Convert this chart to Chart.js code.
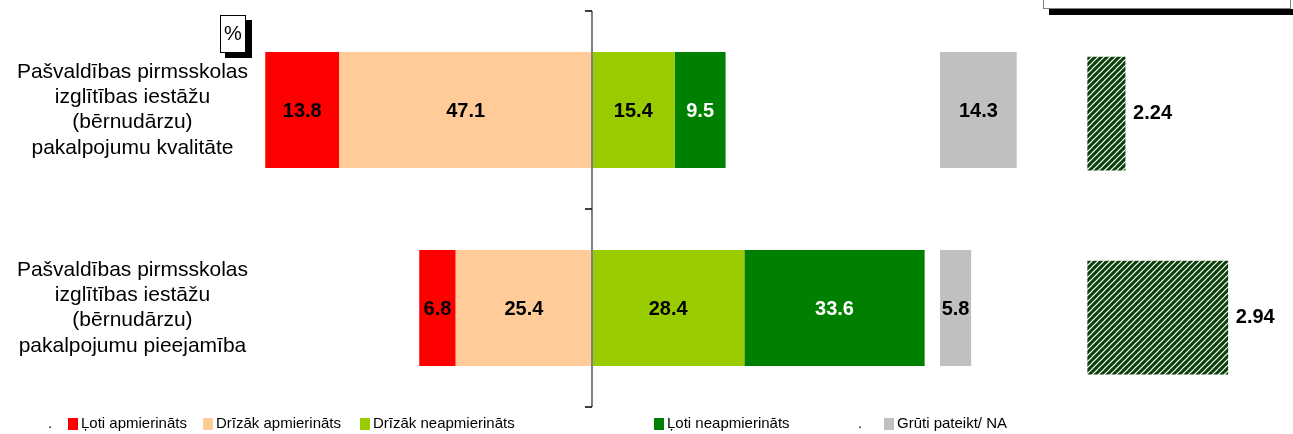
<!DOCTYPE html>
<html>
<head>
<meta charset="utf-8">
<script src="https://cdn.jsdelivr.net/npm/chart.js@4.4.0/dist/chart.umd.min.js"></script>
<style>
  html, body { margin: 0; padding: 0; background: #fff; }
  #wrap { width: 1293px; height: 434px; position: relative; }
</style>
</head>
<body>
<div id="wrap"><canvas id="grafiks"></canvas></div>
<script>
// Dati
var kategorijas = [
  ['Pašvaldības pirmsskolas', 'izglītības iestāžu', '(bērnudārzu)', 'pakalpojumu kvalitāte'],
  ['Pašvaldības pirmsskolas', 'izglītības iestāžu', '(bērnudārzu)', 'pakalpojumu pieejamība']
];
var lotiApmierinats = [13.8, 6.8];
var drizakApmierinats = [47.1, 25.4];
var drizakNeapmierinats = [15.4, 28.4];
var lotiNeapmierinats = [9.5, 33.6];
var grutiPateikt = [14.3, 5.8];
var videjaisVertejums = [2.24, 2.94];

var nosaukumi = ['Ļoti apmierināts', 'Drīzāk apmierināts', 'Drīzāk neapmierināts', 'Ļoti neapmierināts', 'Grūti pateikt/ NA'];
var krasas = ['#FF0000', '#FFCC99', '#99CC00', '#008000', '#C0C0C0'];

var FONTS = "'Liberation Sans', Arial, sans-serif";
var VID_BAZE = 1.985; // no kurienes sāk svītroto stabiņu

var ctx = document.getElementById('grafiks').getContext('2d');

// svītrots raksts vidējam vērtējumam
function svitrasRaksts() {
  var c = document.createElement('canvas');
  c.width = 6; c.height = 6;
  var g = c.getContext('2d');
  g.fillStyle = '#fff';
  g.fillRect(0, 0, 6, 6);
  g.strokeStyle = '#0a400a';
  g.lineWidth = 3.1;
  g.beginPath();
  g.moveTo(-1, 7); g.lineTo(7, -1);
  g.moveTo(-1, 1); g.lineTo(1, -1);
  g.moveTo(5, 7); g.lineTo(7, 5);
  g.stroke();
  return ctx.createPattern(c, 'repeat');
}

// uzraksti, centra līnija, leģenda un rāmīši
var zimejumi = {
  id: 'zimejumi',
  afterDatasetsDraw: function(chart) {
    var c = chart.ctx;
    var area = chart.chartArea;
    var x0 = chart.scales.x.getPixelForValue(0);

    // centra ass
    c.save();
    c.strokeStyle = '#808080';
    c.lineWidth = 2;
    c.beginPath();
    c.moveTo(x0, area.top);
    c.lineTo(x0, area.bottom);
    c.stroke();
    c.strokeStyle = '#000';
    c.lineWidth = 1.5;
    var solis = (area.bottom - area.top) / kategorijas.length;
    for (var k = 0; k <= kategorijas.length; k++) {
      var yy = area.top + k * solis;
      c.beginPath();
      c.moveTo(x0 - 7, yy);
      c.lineTo(x0, yy);
      c.stroke();
    }

    // vērtības uz stabiņiem
    c.font = 'bold 20px ' + FONTS;
    c.textBaseline = 'middle';
    chart.data.datasets.forEach(function(ds, di) {
      var meta = chart.getDatasetMeta(di);
      meta.data.forEach(function(el, i) {
        if (ds.vid) {
          c.fillStyle = '#000';
          c.textAlign = 'left';
          c.fillText(videjaisVertejums[i].toFixed(2), el.x + 8, el.y);
        } else {
          c.fillStyle = ds.teksts || '#000';
          c.textAlign = 'center';
          c.fillText(Math.abs(ds.data[i]).toFixed(1), (el.x + el.base) / 2, el.y + 1);
        }
      });
    });
    c.restore();
  },
  afterDraw: function(chart) {
    var c = chart.ctx;
    c.save();

    // "%" rāmītis
    c.fillStyle = '#000';
    c.fillRect(225, 20, 27, 38);
    c.fillStyle = '#fff';
    c.fillRect(220, 15, 26, 38);
    c.strokeStyle = '#000';
    c.lineWidth = 1;
    c.strokeRect(220.5, 15.5, 25, 37);
    c.fillStyle = '#000';
    c.font = '20px ' + FONTS;
    c.textAlign = 'center';
    c.textBaseline = 'middle';
    c.fillText('%', 233, 34);

    // augšējais rāmītis (nogriezts)
    c.fillStyle = '#000';
    c.fillRect(1049, 9, 244, 6);
    c.fillStyle = '#fff';
    c.fillRect(1043, -2, 248, 11);
    c.strokeStyle = '#808080';
    c.strokeRect(1043.5, -2, 247, 10.5);

    // leģenda
    var ly = 424;
    c.font = '15px ' + FONTS;
    c.textAlign = 'left';
    c.textBaseline = 'middle';
    c.fillStyle = '#000';
    c.fillText('.', 48, ly);
    c.fillText('.', 858, ly);
    var lx = [68, 203, 360, 654, 884];
    nosaukumi.forEach(function(n, i) {
      c.fillStyle = krasas[i];
      c.fillRect(lx[i], ly - 6, 10, 12);
      c.fillStyle = '#000';
      c.fillText(n, lx[i] + 13, ly);
    });
    c.restore();
  }
};

var grafiks = new Chart(ctx, {
  type: 'bar',
  data: {
    labels: kategorijas,
    datasets: [
      { label: nosaukumi[1], data: drizakApmierinats.map(function(v) { return -v; }), backgroundColor: krasas[1], xAxisID: 'x', yAxisID: 'y' },
      { label: nosaukumi[0], data: lotiApmierinats.map(function(v) { return -v; }), backgroundColor: krasas[0], xAxisID: 'x', yAxisID: 'y' },
      { label: nosaukumi[2], data: drizakNeapmierinats, backgroundColor: krasas[2], xAxisID: 'x', yAxisID: 'y' },
      { label: nosaukumi[3], data: lotiNeapmierinats, backgroundColor: krasas[3], xAxisID: 'x', yAxisID: 'y', teksts: '#fff' },
      { label: nosaukumi[4], data: grutiPateikt, backgroundColor: krasas[4], xAxisID: 'xg', yAxisID: 'yg' },
      {
        label: 'Vidējais',
        data: videjaisVertejums.map(function(v, i) { return { x: v, y: i }; }),
        backgroundColor: svitrasRaksts(),
        xAxisID: 'xh', yAxisID: 'yh',
        base: VID_BAZE,
        barThickness: 113,
        vid: true
      }
    ]
  },
  options: {
    indexAxis: 'y',
    responsive: true,
    maintainAspectRatio: false,
    animation: false,
    layout: { padding: { left: 0, right: 3, top: 11, bottom: 27 } },
    datasets: {
      bar: { categoryPercentage: 1, barPercentage: 0.586, borderWidth: 0, grouped: false }
    },
    plugins: {
      legend: { display: false },
      tooltip: { enabled: false }
    },
    scales: {
      x: { display: false, stacked: true, min: -61.88, max: 130.1 },
      xg: { display: false, min: -126.75, max: 65.24 },
      xh: { display: false, min: -3.657, max: 3.364 },
      y: {
        stacked: true,
        grid: { display: false, drawTicks: false },
        border: { display: false },
        ticks: {
          crossAlign: 'center',
          padding: 12,
          color: '#000',
          font: { family: FONTS, size: 21, lineHeight: 1.2 }
        },
        afterFit: function(s) {
          s.width = 260;
          s.paddingTop = 0;
          s.paddingBottom = 0;
        }
      },
      yg: { type: 'category', display: false },
      yh: { type: 'linear', display: false, offset: false, reverse: true, min: -0.5034, max: 1.4378 }
    }
  },
  plugins: [zimejumi]
});
</script>
</body>
</html>
